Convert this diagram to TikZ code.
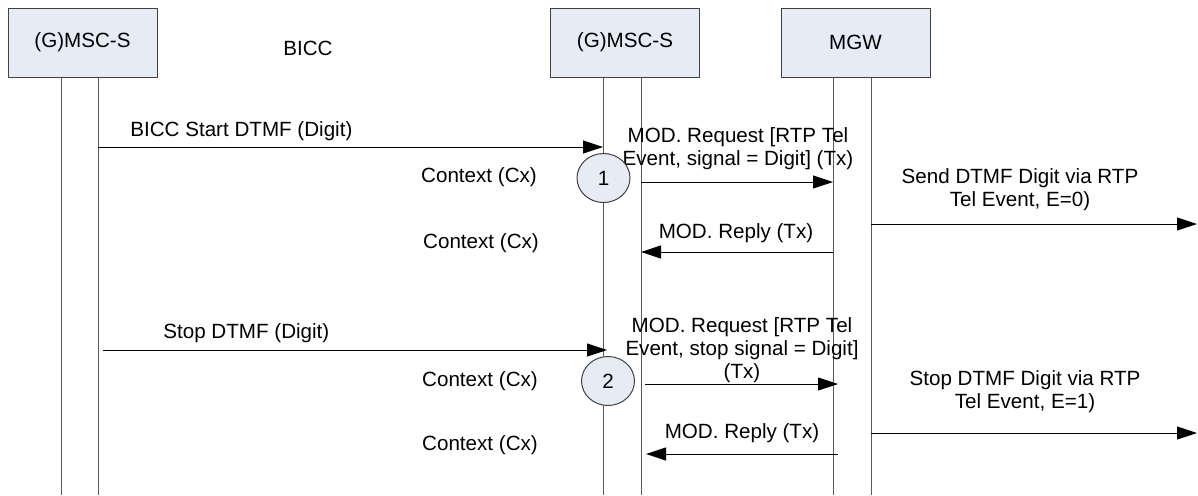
\documentclass[tikz,border=0pt]{standalone}
\usepackage{fontspec}
\setmainfont{Liberation Sans}
\usetikzlibrary{arrows.meta,shapes.geometric}
\definecolor{boxfill}{RGB}{230,236,245}
\begin{document}
\begin{tikzpicture}[x=0.5pt,y=-0.5pt,font=\fontsize{10.3}{11.5}\selectfont,line join=round,>={Triangle[length=10pt,width=6.5pt]},
	ent/.style={draw=black!75,fill=boxfill,line width=0.5pt,minimum width=74.5pt,minimum height=34.5pt,inner sep=0pt},
	life/.style={draw=black!65,line width=0.5pt},
	msg/.style={->,line width=0.5pt},
	lbl/.style={inner sep=0pt,align=center},
	num/.style={ellipse,draw=black!75,fill=boxfill,line width=0.5pt,minimum width=26.5pt,minimum height=24.5pt,inner sep=0pt}]
	\useasboundingbox (0,0) rectangle (1198,495);
	\node[ent] (msc1) at (82.5,42.5) {(G)MSC-S};
	\node[ent] (msc2) at (625,42.5) {(G)MSC-S};
	\node[ent] (mgw) at (855.5,42.5) {MGW};
	\node[lbl] (bicc) at (308,48) {BICC};
	\foreach \n/\x in {a/61,b/98,c/603,d/641,e/833,f/871}{
		\coordinate (\n top) at (\x,77.5);
		\coordinate (\n bot) at (\x,495);
		\draw[life] (\n top) -- (\n bot);
	}
	\node[lbl,anchor=west] (l1) at (130,131) {BICC Start DTMF (Digit)};
	\node[lbl,anchor=west] (l5) at (163,333) {Stop DTMF (Digit)};
	\node[lbl] (cx1) at (479,177) {Context (Cx)};
	\node[lbl] (cx2) at (481,243) {Context (Cx)};
	\node[lbl] (cx3) at (480,381) {Context (Cx)};
	\node[lbl] (cx4) at (480,445) {Context (Cx)};
	\node[lbl] (l2) at (738,148.5) {MOD. Request [RTP Tel\\Event, signal = Digit] (Tx)};
	\node[lbl] (l3) at (1020,190) {Send DTMF Digit via RTP\\Tel Event, E=0)};
	\node[lbl] (l4) at (736,233) {MOD. Reply (Tx)};
	\node[lbl] (l6) at (742,350.5) {MOD. Request [RTP Tel\\Event, stop signal = Digit]\\(Tx)};
	\node[lbl] (l7) at (1025,391.5) {Stop DTMF Digit via RTP\\Tel Event, E=1)};
	\node[lbl] (l8) at (742,433) {MOD. Reply (Tx)};
	\node[num] (n1) at (603.5,178) {1};
	\node[num] (n2) at (608,381) {2};
	\foreach \n/\xa/\xb/\y in {m1/98/603/147,m2/641/833/182,m3/871/1197/224,m4/833/641/252,m5/103/607/350,m6/645/838/384,m7/871/1197/433,m8/838/646/454}{
		\coordinate (\n s) at (\xa,\y);
		\coordinate (\n e) at (\xb,\y);
		\draw[msg] (\n s) -- (\n e);
	}
\end{tikzpicture}
\end{document}
